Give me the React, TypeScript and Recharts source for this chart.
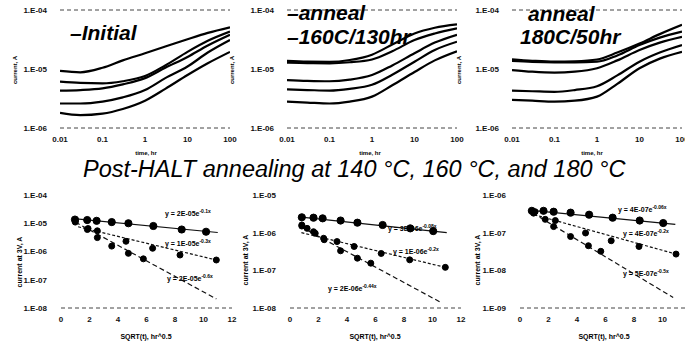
import React from 'react';
import { LineChart, Line, XAxis, YAxis, ReferenceLine } from 'recharts';

// ---- top row: current vs time (log-log) ----
const timeTicks = [0.01, 0.1, 1, 10, 100];
const topCurrentTicks = [1e-6, 1e-5, 1e-4];
const times = [0.01, 0.03, 0.1, 0.3, 1, 3, 10, 30, 100];

const initialA = [9.3e-6, 8.8e-6, 1.05e-5, 1.4e-5, 1.85e-5, 2.4e-5, 3.2e-5, 4.1e-5, 5.1e-5];
const initialB = [6.1e-6, 5.8e-6, 5.7e-6, 6.2e-6, 7.6e-6, 1.15e-5, 1.95e-5, 3.0e-5, 4.3e-5];
const initialC = [4.3e-6, 4.4e-6, 4.7e-6, 5.5e-6, 7.0e-6, 1.05e-5, 1.6e-5, 2.5e-5, 3.8e-5];
const initialD = [2.6e-6, 2.6e-6, 2.8e-6, 3.3e-6, 4.4e-6, 7.0e-6, 1.1e-5, 1.9e-5, 3.1e-5];
const initialE = [1.8e-6, 1.65e-6, 1.75e-6, 2.1e-6, 2.9e-6, 4.6e-6, 7.9e-6, 1.25e-5, 1.95e-5];

const anneal160A = [1.37e-5, 1.33e-5, 1.32e-5, 1.42e-5, 1.75e-5, 2.6e-5, 4.0e-5, 5.0e-5, 5.7e-5];
const anneal160B = [1.28e-5, 1.26e-5, 1.25e-5, 1.3e-5, 1.45e-5, 2.0e-5, 3.1e-5, 4.0e-5, 4.9e-5];
const anneal160C = [6.5e-6, 6.3e-6, 6.2e-6, 6.6e-6, 7.9e-6, 1.15e-5, 1.85e-5, 2.8e-5, 3.8e-5];
const anneal160D = [4.5e-6, 4.4e-6, 4.3e-6, 4.6e-6, 5.4e-6, 8.0e-6, 1.33e-5, 2.1e-5, 2.9e-5];
const anneal160E = [2.8e-6, 2.7e-6, 2.6e-6, 2.8e-6, 3.4e-6, 5.3e-6, 8.9e-6, 1.4e-5, 2.0e-5];

const anneal180A = [1.46e-5, 1.38e-5, 1.33e-5, 1.35e-5, 1.45e-5, 1.9e-5, 2.7e-5, 3.9e-5, 5.6e-5];
const anneal180B = [1.37e-5, 1.32e-5, 1.3e-5, 1.3e-5, 1.33e-5, 1.7e-5, 2.55e-5, 3.4e-5, 4.3e-5];
const anneal180C = [9.6e-6, 9.0e-6, 8.7e-6, 9.0e-6, 1.03e-5, 1.4e-5, 2.1e-5, 2.8e-5, 3.5e-5];
const anneal180D = [4.3e-6, 4.2e-6, 4.1e-6, 4.4e-6, 5.1e-6, 7.8e-6, 1.33e-5, 1.9e-5, 2.55e-5];
const anneal180E = [3.0e-6, 2.9e-6, 2.8e-6, 2.9e-6, 3.4e-6, 5.6e-6, 1.03e-5, 1.5e-5, 1.96e-5];

// ---- bottom row: current at 3V vs sqrt(time) ----
const sqrtTicks = [0, 2, 4, 6, 8, 10, 12];

const h140TopX = [0.98, 1.84, 2.5, 3.56, 4.73, 6.48, 8.47, 10.18];
const h140TopY = [1.35e-5, 1.3e-5, 1.22e-5, 1.1e-5, 1.0e-5, 8.0e-6, 6.0e-6, 5.0e-6];
const h140MidX = [1.0, 1.9, 2.55, 4.56, 6.43, 8.35, 10.9];
const h140MidY = [1.2e-5, 6.5e-6, 5.4e-6, 2.3e-6, 1.3e-6, 7.5e-7, 5.0e-7];
const h140LowX = [1.0, 1.85, 2.55, 3.56, 4.73, 5.78];
const h140LowY = [1.1e-5, 6.0e-6, 3.1e-6, 1.55e-6, 8.6e-7, 5.5e-7];
const h140FitX = [[0.9, 11], [1.2, 10.9], [1.0, 10.9]];
const h140FitY = [[1.45e-5, 4.7e-6], [7.5e-6, 5.0e-7], [1.1e-5, 2.1e-8]];
const h140Eq = [['y = 2E-05e', '-0.1x'], ['y = 1E-05e', '-0.3x'], ['y = 2E-05e', '-0.6x']];

const h160TopX = [0.83, 1.65, 2.29, 3.55, 4.73, 6.5, 8.44, 10.05];
const h160TopY = [2.56e-6, 2.5e-6, 2.4e-6, 2.1e-6, 1.84e-6, 1.6e-6, 1.3e-6, 1.1e-6];
const h160MidX = [0.83, 1.2, 1.77, 2.36, 3.3, 4.5, 6.4, 8.4, 10.9];
const h160MidY = [1.6e-6, 1.3e-6, 9.6e-7, 7.1e-7, 5.8e-7, 4.3e-7, 2.8e-7, 1.9e-7, 1.2e-7];
const h160LowX = [0.83, 1.65, 2.4, 3.55, 4.73, 5.67];
const h160LowY = [1.5e-6, 1.06e-6, 6.5e-7, 3.3e-7, 2.1e-7, 1.55e-7];
const h160FitX = [[0.8, 11], [0.8, 10.9], [0.8, 10.6]];
const h160FitY = [[2.6e-6, 1.0e-6], [1.0e-6, 1.2e-7], [1.4e-6, 1.4e-8]];
const h160Eq = [['y = 3E-06e', '-0.08x'], ['y = 1E-06e', '-0.2x'], ['y = 2E-06e', '-0.44x']];

const h180TopX = [0.83, 1.65, 2.36, 3.55, 4.85, 6.5, 8.4, 10.05];
const h180TopY = [3.8e-7, 3.8e-7, 3.6e-7, 3.4e-7, 3.0e-7, 2.5e-7, 2.1e-7, 1.8e-7];
const h180MidX = [1.06, 1.77, 2.48, 4.6, 6.4, 8.35, 10.95];
const h180MidY = [3.6e-7, 2.26e-7, 2.1e-7, 9.8e-8, 6.1e-8, 4.3e-8, 2.7e-8];
const h180LowX = [0.95, 2.36, 3.55, 4.8, 5.67];
const h180LowY = [3.3e-7, 1.45e-7, 7.9e-8, 4.5e-8, 3.2e-8];
const h180FitX = [[0.8, 10.9], [1.0, 10.95], [0.9, 10.75]];
const h180FitY = [[3.9e-7, 1.67e-7], [3.0e-7, 2.7e-8], [3.3e-7, 1.9e-9]];
const h180Eq = [['y = 4E-07e', '-0.06x'], ['y = 4E-07e', '-0.2x'], ['y = 5E-07e', '-0.5x']];

const pts = (xs: number[], ys: number[]) => xs.map((x, k) => ({ x, y: ys[k] }));

const sci = (v: number) => {
  const e = Math.round(Math.log10(v));
  return `1.E${e < 0 ? '-' : '+'}${String(Math.abs(e)).padStart(2, '0')}`;
};

const font = '"Liberation Sans", Arial, sans-serif';
const tickStyle = { fontSize: 8, fontWeight: 700, fill: '#111', fontFamily: font };

const abs = (left: number, top: number, extra: React.CSSProperties = {}): React.CSSProperties => ({
  position: 'absolute',
  left,
  top,
  fontFamily: font,
  lineHeight: 1,
  whiteSpace: 'nowrap',
  color: '#000',
  ...extra,
});

function TimePanel({ left, curves }: { left: number; curves: number[][] }) {
  return (
    <div style={{ position: 'absolute', left, top: 0 }}>
      <LineChart width={240} height={165} margin={{ top: 10, right: 10, left: 10, bottom: 7 }}>
        <XAxis
          dataKey="x"
          type="number"
          scale="log"
          domain={[0.01, 100]}
          ticks={timeTicks}
          allowDataOverflow
          axisLine={false}
          tickLine={false}
          tick={tickStyle}
          height={30}
        />
        <YAxis
          type="number"
          scale="log"
          domain={[1e-6, 1e-4]}
          ticks={topCurrentTicks}
          allowDataOverflow
          axisLine={false}
          tickLine={false}
          tick={tickStyle}
          tickFormatter={sci}
          tickMargin={7}
          width={50}
        />
        <ReferenceLine y={1e-4} stroke="#444" strokeDasharray="4 3" />
        <ReferenceLine y={1e-6} stroke="#444" strokeDasharray="4 3" />
        {curves.map((c, k) => (
          <Line
            key={k}
            data={pts(times, c)}
            dataKey="y"
            type="monotone"
            stroke="#000"
            strokeWidth={2.2}
            dot={false}
            isAnimationActive={false}
          />
        ))}
      </LineChart>
    </div>
  );
}

type Series = { x: number[]; y: number[] };

function SqrtPanel({
  left,
  domain,
  ticks,
  marks,
  fitX,
  fitY,
}: {
  left: number;
  domain: [number, number];
  ticks: number[];
  marks: Series[];
  fitX: number[][];
  fitY: number[][];
}) {
  const dashes = ['0', '3 2', '5 3'];
  const radius = [3.6, 3, 3];
  return (
    <div style={{ position: 'absolute', left, top: 180 }}>
      <LineChart width={245} height={165} margin={{ top: 15, right: 13, left: 11, bottom: 7 }}>
        <XAxis
          dataKey="x"
          type="number"
          domain={[0, 12]}
          ticks={sqrtTicks}
          allowDataOverflow
          axisLine={false}
          tickLine={false}
          tick={tickStyle}
          height={30}
        />
        <YAxis
          type="number"
          scale="log"
          domain={domain}
          ticks={ticks}
          allowDataOverflow
          axisLine={false}
          tickLine={false}
          tick={tickStyle}
          tickFormatter={sci}
          tickMargin={8}
          width={50}
        />
        <ReferenceLine y={domain[0]} stroke="#444" strokeDasharray="4 3" />
        {fitX.map((fx, k) => (
          <Line
            key={`fit-${k}`}
            data={pts(fx, fitY[k])}
            dataKey="y"
            type="linear"
            stroke="#111"
            strokeWidth={1.2}
            strokeDasharray={dashes[k]}
            dot={false}
            isAnimationActive={false}
          />
        ))}
        {marks.map((m, k) => (
          <Line
            key={`mark-${k}`}
            data={pts(m.x, m.y)}
            dataKey="y"
            stroke="transparent"
            dot={{ r: radius[k], fill: '#000', stroke: '#000', strokeWidth: 1 }}
            isAnimationActive={false}
          />
        ))}
      </LineChart>
    </div>
  );
}

function Eq({ left, top, text }: { left: number; top: number; text: string[] }) {
  return (
    <div style={abs(left, top, { fontSize: 7, fontWeight: 700 })}>
      {text[0]}
      <sup style={{ fontSize: 5 }}>{text[1]}</sup>
    </div>
  );
}

function RotLabel({ cx, cy, text, size }: { cx: number; cy: number; text: string; size: number }) {
  return (
    <div
      style={abs(cx, cy, {
        fontSize: size,
        fontWeight: 700,
        transform: 'translate(-50%, -50%) rotate(-90deg)',
      })}
    >
      {text}
    </div>
  );
}

export default function App() {
  const panelTitle: React.CSSProperties = { fontSize: 21, fontWeight: 700, fontStyle: 'italic' };
  return (
    <div
      style={{
        position: 'absolute',
        left: 0,
        top: 0,
        width: 685,
        height: 345,
        overflow: 'hidden',
        background: '#fff',
      }}
    >
      <TimePanel left={0} curves={[initialA, initialB, initialC, initialD, initialE]} />
      <TimePanel left={227} curves={[anneal160A, anneal160B, anneal160C, anneal160D, anneal160E]} />
      <TimePanel left={452} curves={[anneal180A, anneal180B, anneal180C, anneal180D, anneal180E]} />

      <SqrtPanel
        left={0}
        domain={[1e-8, 1e-4]}
        ticks={[1e-8, 1e-7, 1e-6, 1e-5, 1e-4]}
        marks={[
          { x: h140TopX, y: h140TopY },
          { x: h140MidX, y: h140MidY },
          { x: h140LowX, y: h140LowY },
        ]}
        fitX={h140FitX}
        fitY={h140FitY}
      />
      <SqrtPanel
        left={229}
        domain={[1e-8, 1e-5]}
        ticks={[1e-8, 1e-7, 1e-6, 1e-5]}
        marks={[
          { x: h160TopX, y: h160TopY },
          { x: h160MidX, y: h160MidY },
          { x: h160LowX, y: h160LowY },
        ]}
        fitX={h160FitX}
        fitY={h160FitY}
      />
      <SqrtPanel
        left={459}
        domain={[1e-9, 1e-6]}
        ticks={[1e-9, 1e-8, 1e-7, 1e-6]}
        marks={[
          { x: h180TopX, y: h180TopY },
          { x: h180MidX, y: h180MidY },
          { x: h180LowX, y: h180LowY },
        ]}
        fitX={h180FitX}
        fitY={h180FitY}
      />

      {/* panel titles */}
      <div style={abs(70, 22, panelTitle)}>–Initial</div>
      <div style={abs(287, 2, panelTitle)}>–anneal</div>
      <div style={abs(287, 26, panelTitle)}>–160C/130hr</div>
      <div style={abs(528, 3, panelTitle)}>anneal</div>
      <div style={abs(520, 26, panelTitle)}>180C/50hr</div>

      {/* main title */}
      <div style={abs(83, 158, { fontSize: 23.5, fontStyle: 'italic' })}>
        Post-HALT annealing at 140 °C, 160 °C, and 180 °C
      </div>

      {/* axis titles */}
      {[146, 370, 592].map((cx) => (
        <div key={cx} style={abs(cx, 150, { fontSize: 6, fontWeight: 700, transform: 'translateX(-50%)' })}>
          time, hr
        </div>
      ))}
      {[146, 375, 604].map((cx) => (
        <div key={cx} style={abs(cx, 333, { fontSize: 7, fontWeight: 700, transform: 'translateX(-50%)' })}>
          SQRT(t), hr^0.5
        </div>
      ))}
      <RotLabel cx={15} cy={70} text="current, A" size={6} />
      <RotLabel cx={232} cy={70} text="current, A" size={6} />
      <RotLabel cx={459} cy={70} text="current, A" size={6} />
      <RotLabel cx={19} cy={262} text="current at 3V, A" size={7} />
      <RotLabel cx={245} cy={260} text="current at 3V, A" size={7} />
      <RotLabel cx={477} cy={260} text="current at 3V, A" size={7} />

      {/* trend line equations */}
      <Eq left={165} top={209} text={h140Eq[0]} />
      <Eq left={165} top={239} text={h140Eq[1]} />
      <Eq left={167} top={274} text={h140Eq[2]} />
      <Eq left={388} top={224} text={h160Eq[0]} />
      <Eq left={393} top={247} text={h160Eq[1]} />
      <Eq left={328} top={284} text={h160Eq[2]} />
      <Eq left={618} top={205} text={h180Eq[0]} />
      <Eq left={623} top={229} text={h180Eq[1]} />
      <Eq left={623} top={269} text={h180Eq[2]} />
    </div>
  );
}
